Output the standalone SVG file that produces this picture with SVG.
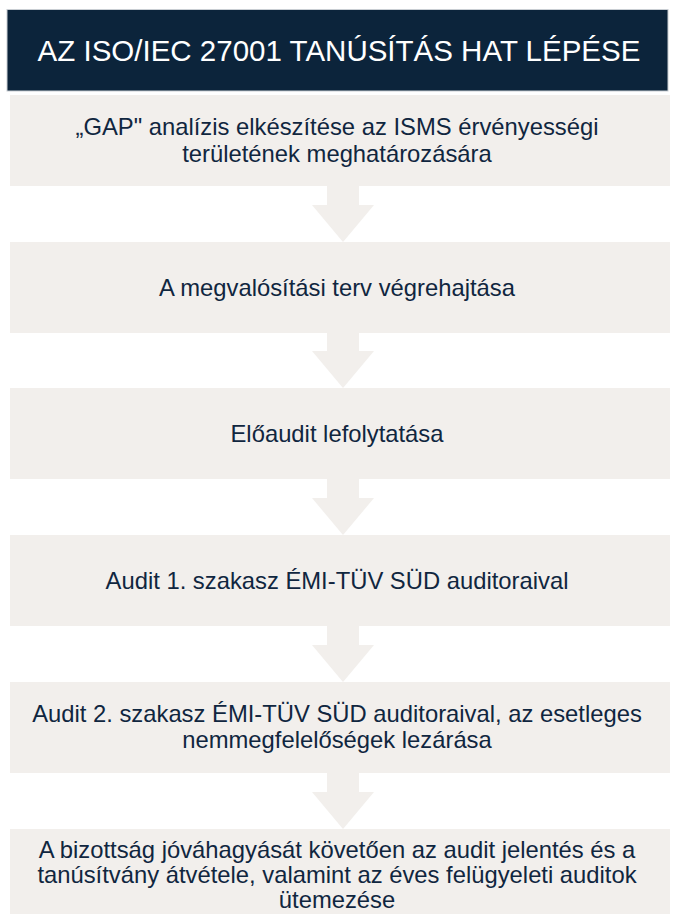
<svg xmlns="http://www.w3.org/2000/svg" width="673" height="914" viewBox="0 0 673 914">
<style>
.box{fill:#f2efec}
.arrow{fill:#f2efec}
.t{font-family:"Liberation Sans",Arial,sans-serif;font-size:23.8px;fill:#10263f;text-anchor:middle}
.h{font-family:"Liberation Sans",Arial,sans-serif;font-size:29.5px;fill:#ffffff;text-anchor:middle}
</style>
<rect width="673" height="914" fill="#ffffff"/>
<g id="header">
<rect x="7" y="9.5" width="661" height="81.5" fill="#0c243b" stroke="#c9ced3" stroke-width="1"/>
<text class="h" x="339" y="61">AZ ISO/IEC 27001 TANÚSÍTÁS HAT LÉPÉSE</text>
</g>
<g id="connectors">
<path class="arrow" d="M327,186 H359 V205 H374 L343,242 L312,205 H327 Z"/>
<path class="arrow" d="M327,333 H359 V351 H374 L343,388 L312,351 H327 Z"/>
<path class="arrow" d="M327,479 H359 V498 H374 L343,535 L312,498 H327 Z"/>
<path class="arrow" d="M327,626 H359 V645 H374 L343,682 L312,645 H327 Z"/>
<path class="arrow" d="M327,773 H359 V792 H374 L343,829 L312,792 H327 Z"/>
</g>
<g id="step1">
<rect class="box" x="10" y="95" width="660" height="91"/>
<text class="t" x="337" y="135">„GAP" analízis elkészítése az ISMS érvényességi</text>
<text class="t" x="337" y="162">területének meghatározására</text>
</g>
<g id="step2">
<rect class="box" x="10" y="242" width="660" height="91"/>
<text class="t" x="337" y="296">A megvalósítási terv végrehajtása</text>
</g>
<g id="step3">
<rect class="box" x="10" y="388" width="660" height="91"/>
<text class="t" x="337" y="442">Előaudit lefolytatása</text>
</g>
<g id="step4">
<rect class="box" x="10" y="535" width="660" height="91"/>
<text class="t" x="337" y="589">Audit 1. szakasz ÉMI-TÜV SÜD auditoraival</text>
</g>
<g id="step5">
<rect class="box" x="10" y="682" width="660" height="91"/>
<text class="t" x="337" y="722">Audit 2. szakasz ÉMI-TÜV SÜD auditoraival, az esetleges</text>
<text class="t" x="337" y="748">nemmegfelelőségek lezárása</text>
</g>
<g id="step6">
<rect class="box" x="10" y="829" width="660" height="85"/>
<text class="t" x="337" y="858">A bizottság jóváhagyását követően az audit jelentés és a</text>
<text class="t" x="337" y="883">tanúsítvány átvétele, valamint az éves felügyeleti auditok</text>
<text class="t" x="337" y="908">ütemezése</text>
</g>
</svg>
